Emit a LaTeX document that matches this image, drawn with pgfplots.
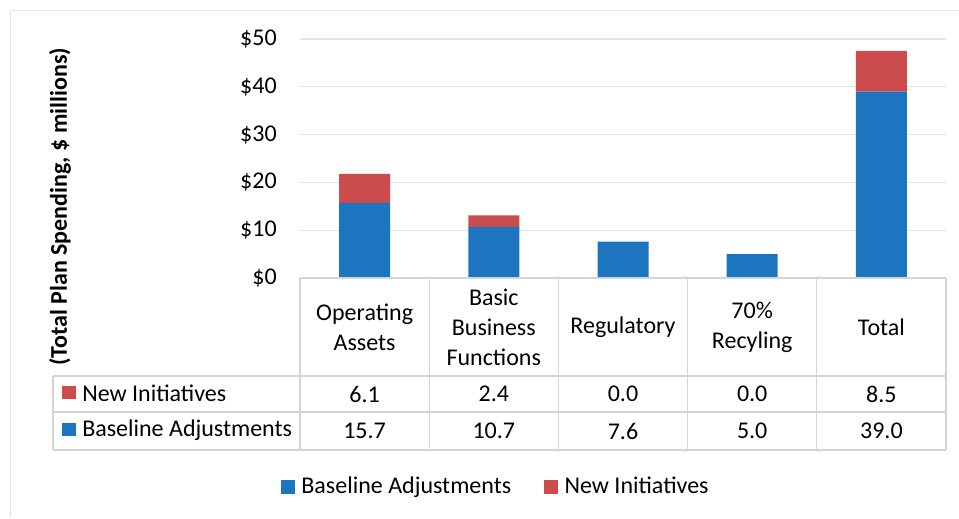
\documentclass[border=0pt]{standalone}
\usepackage{pgfplots}
\pgfplotsset{compat=1.18}
\usepackage{fontspec}
\setmainfont{Carlito}
\definecolor{bblue}{RGB}{28,117,190}
\definecolor{rred}{RGB}{204,76,78}
\definecolor{gridc}{RGB}{228,228,228}
\definecolor{tabc}{RGB}{212,212,212}
\begin{document}
\fontsize{18}{22.5}\selectfont
\begin{tikzpicture}[x=0.75pt,y=0.75pt]
\path[use as bounding box] (0,0) rectangle (959,518);
\draw[gridc] (10,0) -- (10,508) -- (959,508);
\begin{axis}[at={(225pt,180pt)}, anchor=south west, scale only axis,
  width=484.5pt, height=179.25pt,
  font=\fontsize{18}{22.5}\selectfont,
  ybar stacked, bar width=38.25pt,
  xmin=-0.5, xmax=4.5, ymin=0, ymax=50,
  xtick={0,...,4},
  xticklabels={{Operating\\Assets},{Basic\\Business\\Functions},Regulatory,{70\%\\Recyling},Total},
  xticklabel style={align=center, anchor=center, yshift=-36.75pt, inner sep=0pt},
  ytick={0,10,...,50},
  /pgf/number format/assume math mode=true,
  yticklabel={\$\pgfmathprintnumber{\tick}},
  yticklabel style={anchor=east, inner sep=0pt, xshift=-17.25pt},
  ymajorgrids, grid style={gridc, line width=0.8pt},
  axis line style={draw=none}, tick style={draw=none},
  legend columns=2,
  legend style={at={(0.3034,-0.8745)}, anchor=center, draw=none, fill=none,
    font=\fontsize{18}{22.5}\selectfont,
    /tikz/every odd column/.append style={column sep=3pt},
    /tikz/every even column/.append style={column sep=22.5pt},
    nodes={inner sep=2pt}},
  legend image code/.code={\fill[#1] (0pt,-5pt) rectangle (10.5pt,5.5pt);},
]
\addplot[fill=bblue, draw=none] coordinates {(0,15.7) (1,10.7) (2,7.6) (3,5.0) (4,39.0)};
\addplot[fill=rred, draw=none] coordinates {(0,6.1) (1,2.4) (2,0.0) (3,0.0) (4,8.5)};
\legend{Baseline Adjustments, New Initiatives}
\end{axis}
% data table grid
\draw[tabc, line width=0.8pt] (300,240) -- (946,240);
\draw[tabc, line width=0.8pt] (53,142) -- (946,142);
\draw[tabc, line width=0.8pt] (53,106) -- (946,106);
\draw[tabc, line width=0.8pt] (53,68) -- (946,68);
\draw[tabc, line width=0.8pt] (53,142) -- (53,68);
\foreach \xx in {300,429.2,558.4,687.6,816.8,946} {\draw[tabc, line width=0.8pt] (\xx,240) -- (\xx,68);}
% row labels
\fill[rred] (62,119) rectangle (75.5,132.5);
\node[anchor=west, inner sep=0pt] at (82,125) {New Initiatives};
\fill[bblue] (62,82) rectangle (75.5,95.5);
\node[anchor=west, inner sep=0pt] at (82,88) {Baseline Adjustments};
% values
\foreach \xx/\v in {364.6/6.1,493.8/2.4,623/0.0,752.2/0.0,881.4/8.5} {\node at (\xx,124) {\v};}
\foreach \xx/\v in {364.6/15.7,493.8/10.7,623/7.6,752.2/5.0,881.4/39.0} {\node at (\xx,87) {\v};}
% y label
\node[rotate=90, font=\bfseries] at (60,311) {(Total Plan Spending, \$ millions)};
\end{tikzpicture}
\end{document}
